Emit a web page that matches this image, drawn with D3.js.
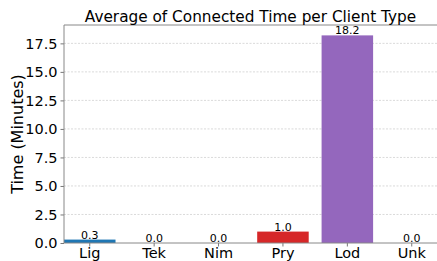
<!DOCTYPE html>
<html>
<head>
<meta charset="utf-8">
<script src="https://cdn.jsdelivr.net/npm/d3@7"></script>
<style>
  body { margin: 0; background: #fff; }
  text { font-family: "DejaVu Sans", sans-serif; }
</style>
</head>
<body>
<div id="chart"></div>
<script>
  var categories = ["Lig", "Tek", "Nim", "Pry", "Lod", "Unk"];
  var values = [0.3, 0.0, 0.0, 1.0, 18.2, 0.0];
  var yTicks = [0.0, 2.5, 5.0, 7.5, 10.0, 12.5, 15.0, 17.5];
  var colors = ["#1f77b4", "#ff7f0e", "#2ca02c", "#d62728", "#9467bd", "#8c564b"];

  var width = 437, height = 261;
  var margin = {top: 25, right: 0, bottom: 18, left: 64};

  var svg = d3.select("#chart")
    .append("svg")
    .attr("width", width)
    .attr("height", height);

  var x = d3.scaleBand()
    .domain(categories)
    .range([margin.left, width + 0.5])
    .paddingInner(0.2)
    .paddingOuter(0);

  var y = d3.scaleLinear()
    .domain([0, d3.max(values) * 1.05])
    .range([height - margin.bottom, margin.top]);

  // grid
  svg.append("g")
    .selectAll("line")
    .data(yTicks.slice(1))
    .enter().append("line")
    .attr("x1", margin.left)
    .attr("x2", width)
    .attr("y1", function (d) { return y(d); })
    .attr("y2", function (d) { return y(d); })
    .attr("stroke", "#d0d0d0")
    .attr("stroke-width", 0.8)
    .attr("stroke-dasharray", "2,1.5");

  // bars
  svg.append("g")
    .selectAll("rect")
    .data(values)
    .enter().append("rect")
    .attr("x", function (d, i) { return x(categories[i]); })
    .attr("y", function (d) { return y(d); })
    .attr("width", x.bandwidth())
    .attr("height", function (d) { return y(0) - y(d); })
    .attr("fill", function (d, i) { return colors[i]; });

  // value labels
  svg.append("g")
    .selectAll("text")
    .data(values)
    .enter().append("text")
    .attr("x", function (d, i) { return x(categories[i]) + x.bandwidth() / 2; })
    .attr("y", function (d) { return y(d) - 1; })
    .attr("text-anchor", "middle")
    .attr("font-size", "11px")
    .attr("fill", "#000")
    .text(function (d) { return d.toFixed(1); });

  // axes
  var yAxis = d3.axisLeft(y)
    .tickValues(yTicks)
    .tickSize(3.5)
    .tickPadding(3)
    .tickFormat(d3.format(".1f"));

  var gy = svg.append("g")
    .attr("transform", "translate(" + margin.left + ",0)")
    .call(yAxis);
  gy.selectAll("text").attr("font-size", "14.5px").attr("fill", "#000");

  var xAxis = d3.axisBottom(x)
    .tickSize(3.5)
    .tickPadding(1);

  var gx = svg.append("g")
    .attr("transform", "translate(0," + (height - margin.bottom) + ")")
    .call(xAxis);
  gx.selectAll("text").attr("font-size", "14.5px").attr("fill", "#000");

  svg.selectAll(".domain").remove();
  svg.selectAll(".tick line").attr("stroke", "#777");

  // spines
  svg.append("line")
    .attr("x1", margin.left).attr("x2", margin.left)
    .attr("y1", margin.top).attr("y2", height - margin.bottom)
    .attr("stroke", "#888").attr("stroke-width", 1);
  svg.append("line")
    .attr("x1", margin.left).attr("x2", width)
    .attr("y1", height - margin.bottom).attr("y2", height - margin.bottom)
    .attr("stroke", "#888").attr("stroke-width", 1);
  svg.append("line")
    .attr("x1", margin.left).attr("x2", width)
    .attr("y1", margin.top).attr("y2", margin.top)
    .attr("stroke", "#888").attr("stroke-width", 1);

  // title
  svg.append("text")
    .attr("x", (margin.left + width) / 2)
    .attr("y", 21.5)
    .attr("text-anchor", "middle")
    .attr("font-size", "15.3px")
    .attr("fill", "#000")
    .text("Average of Connected Time per Client Type");

  // y label
  svg.append("text")
    .attr("transform", "translate(23," + ((margin.top + height - margin.bottom) / 2) + ") rotate(-90)")
    .attr("text-anchor", "middle")
    .attr("font-size", "16px")
    .attr("fill", "#000")
    .text("Time (Minutes)");
</script>
</body>
</html>
